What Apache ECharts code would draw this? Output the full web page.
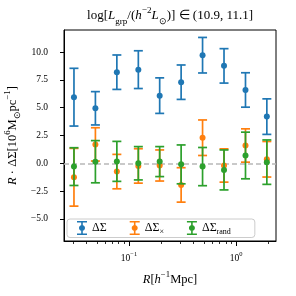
<!DOCTYPE html>
<html>
<head>
<meta charset="utf-8">
<script src="https://cdn.jsdelivr.net/npm/echarts@6/dist/echarts.min.js"></script>
<style>html,body{margin:0;padding:0;background:#fff}#c{width:296px;height:296px}</style>
</head>
<body>
<div id="c"></div>
<script>
// Data
const R = [0.0306, 0.0485, 0.0769, 0.122, 0.193, 0.306, 0.485, 0.769, 1.22, 1.93];
const dSigma = [5.95, 4.95, 8.2, 8.43, 6.09, 7.3, 9.73, 8.77, 6.6, 4.2];
const dSigmaErr = [2.6, 1.5, 1.55, 1.7, 1.6, 1.55, 1.6, 1.55, 1.55, 1.6];
const dCross = [-1.26, 1.7, -0.75, -0.24, -0.2, -1.95, 2.3, -0.2, 1.6, 0.36];
const dCrossErr = [2.6, 1.5, 1.55, 1.55, 1.4, 1.55, 1.6, 1.5, 1.5, 1.6];
const dRand = [-0.3, 0.14, 0.17, 0.0, 0.15, -0.1, -0.3, -0.6, 0.7, 0.1];
const dRandErr = [1.7, 1.9, 1.8, 1.5, 1.35, 1.75, 1.72, 1.8, 2.1, 2.0];
const yTicks = [-5, -2.5, 0, 2.5, 5, 7.5, 10];
const xMajorTicks = [0.1, 1];
const xMinorTicks = [0.03,0.04,0.05,0.06,0.07,0.08,0.09,0.2,0.3,0.4,0.5,0.6,0.7,0.8,0.9,2];

const C_BLUE = '#1f77b4', C_ORANGE = '#ff7f0e', C_GREEN = '#2ca02c';
const SERIF = 'Liberation Serif';

function errData(vals, errs) {
  return R.map((r, i) => [r, vals[i] - errs[i], vals[i] + errs[i]]);
}
function ptData(vals) { return R.map((r, i) => [r, vals[i]]); }

function errSeries(vals, errs, color, z) {
  return {
    type: 'custom',
    z: z,
    silent: true,
    data: errData(vals, errs),
    encode: { x: 0, y: [1, 2] },
    renderItem: function (params, api) {
      const lo = api.coord([api.value(0), api.value(1)]);
      const hi = api.coord([api.value(0), api.value(2)]);
      const hw = 4.5;
      const st = { stroke: color, lineWidth: 1.7 };
      return {
        type: 'group',
        children: [
          { type: 'line', shape: { x1: lo[0], y1: lo[1], x2: hi[0], y2: hi[1] }, style: st },
          { type: 'line', shape: { x1: lo[0] - hw, y1: lo[1], x2: lo[0] + hw, y2: lo[1] }, style: st },
          { type: 'line', shape: { x1: hi[0] - hw, y1: hi[1], x2: hi[0] + hw, y2: hi[1] }, style: st }
        ]
      };
    }
  };
}
function ptSeries(name, vals, color, z) {
  return {
    type: 'scatter', name: name, z: z, data: ptData(vals),
    symbolSize: 6, itemStyle: { color: color, opacity: 1 }, silent: true
  };
}

const ICON = 'path://M0,0L10,0L10,1.6L5.8,1.6L5.8,12.4L10,12.4L10,14L0,14L0,12.4L4.2,12.4L4.2,1.6L0,1.6Z M8,7C8,8.66 6.66,10 5,10C3.34,10 2,8.66 2,7C2,5.34 3.34,4 5,4C6.66,4 8,5.34 8,7Z';

function rich(fs) {
  return {
    n: { fontFamily: SERIF, fontWeight: 'normal', fontSize: fs, color: '#000', lineHeight: fs * 1.5, verticalAlign: 'middle' },
    i: { fontFamily: SERIF, fontWeight: 'normal', fontStyle: 'italic', fontSize: fs, color: '#000', lineHeight: fs * 1.5, verticalAlign: 'middle' },
    sub: { fontFamily: SERIF, fontWeight: 'normal', fontSize: fs * 0.7, color: '#000', verticalAlign: 'bottom' },
    sup: { fontFamily: SERIF, fontWeight: 'normal', fontSize: fs * 0.7, color: '#000', verticalAlign: 'top' }
  };
}

const chart = echarts.init(document.getElementById('c'), null, { renderer: 'canvas' });
chart.setOption({
  animation: false,
  backgroundColor: '#fff',
  graphic: [{
    type: 'text', x: 170, y: 16, silent: true,
    style: {
      text: '{n|log[}{i|L}{sub|grp}{n|/(}{i|h}{sup|−2}{i|L}{sub|⊙}{n|)] ∈ (10.9, 11.1]}',
      align: 'center', verticalAlign: 'middle',
      rich: rich(13)
    }
  }],
  grid: { left: 64, right: 20, top: 30, bottom: 55, show: true, borderColor: '#000', borderWidth: 1, backgroundColor: 'transparent', containLabel: false, outerBoundsMode: 'none' },
  legend: {
    left: 67, top: 219,
    padding: [2, 24, 2, 10],
    backgroundColor: '#fff', borderColor: '#cccccc', borderWidth: 1, borderRadius: 3,
    itemWidth: 10, itemHeight: 14, itemGap: 23, itemTextGap: 13,
    data: [
      { name: 'ds', icon: ICON },
      { name: 'dx', icon: ICON },
      { name: 'dr', icon: ICON }
    ],
    formatter: function (name) {
      if (name === 'ds') return '{n|ΔΣ}';
      if (name === 'dx') return '{n|ΔΣ}{sub|×}';
      return '{n|ΔΣ}{sub|rand}';
    },
    textStyle: {
      rich: {
        n: { fontFamily: SERIF, fontSize: 12, color: '#000', lineHeight: 15, verticalAlign: 'middle' },
        sub: { fontFamily: SERIF, fontSize: 8, color: '#000', verticalAlign: 'bottom' }
      }
    }
  },
  xAxis: [{
    type: 'log', logBase: 10, min: 0.0247, max: 2.35,
    name: '{i|R}{n|[}{i|h}{sup|−1}{n|Mpc]}',
    nameLocation: 'middle', nameGap: 29, nameMoveOverlap: false,
    nameTextStyle: { rich: rich(12.5) },
    axisLine: { show: true, onZero: false, lineStyle: { color: '#000', width: 1 } },
    axisTick: { show: true, inside: false, length: 5, lineStyle: { color: '#000', width: 1 }, customValues: xMajorTicks },
    axisLabel: {
      customValues: xMajorTicks, margin: 10,
      formatter: function (v) { return v < 0.5 ? '{n|10}{sup|−1}' : '{n|10}{sup|0}'; },
      rich: {
        n: { fontFamily: SERIF, fontSize: 9.5, color: '#000', lineHeight: 14, verticalAlign: 'middle' },
        sup: { fontFamily: SERIF, fontSize: 6.5, color: '#000', verticalAlign: 'top' }
      }
    },
    splitLine: { show: false }, minorTick: { show: false }
  }, {
    type: 'log', logBase: 10, min: 0.0247, max: 2.35, position: 'bottom',
    axisLine: { show: false, onZero: false },
    axisTick: { show: true, inside: false, length: 3, lineStyle: { color: '#000', width: 0.8 }, customValues: xMinorTicks },
    axisLabel: { show: false }, splitLine: { show: false }
  }],
  yAxis: {
    type: 'value', min: -7, max: 12,
    name: '{i|R}{n| · ΔΣ[10}{sup|6}{n|M}{sub|⊙}{n|pc}{sup|−1}{n|]}',
    nameLocation: 'middle', nameGap: 42, nameRotate: 90, nameMoveOverlap: false,
    nameTextStyle: { rich: rich(12.5) },
    axisLine: { show: true, onZero: false, lineStyle: { color: '#000', width: 1 } },
    axisTick: { show: true, length: 4, lineStyle: { color: '#000', width: 1 }, customValues: yTicks },
    axisLabel: {
      customValues: yTicks, margin: 16, fontFamily: SERIF, fontSize: 9.5, color: '#000',
      formatter: function (v) { return v.toFixed(1).replace('-', '−'); }
    },
    splitLine: { show: false }
  },
  series: [
    errSeries(dSigma, dSigmaErr, C_BLUE, 2),
    Object.assign(ptSeries('ds', dSigma, C_BLUE, 3), {
      markLine: {
        silent: true, symbol: ['none', 'none'], label: { show: false },
        lineStyle: { color: '#b8b8b8', type: [5, 3], width: 1.5, opacity: 1 },
        emphasis: { disabled: true },
        data: [{ yAxis: 0 }]
      }
    }),
    errSeries(dCross, dCrossErr, C_ORANGE, 4),
    ptSeries('dx', dCross, C_ORANGE, 5),
    errSeries(dRand, dRandErr, C_GREEN, 6),
    ptSeries('dr', dRand, C_GREEN, 7)
  ]
});
</script>
</body>
</html>
